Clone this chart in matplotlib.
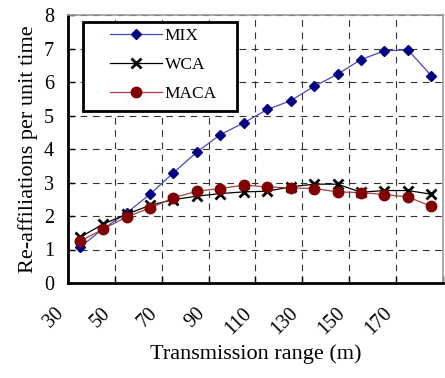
import numpy as np
import matplotlib
matplotlib.use('Agg')
import matplotlib.pyplot as plt
from matplotlib.patches import Rectangle

plt.rcParams['font.family'] = ['Liberation Serif', 'DejaVu Serif']

# transmission range (m), one point per category centre
ranges = [35, 45, 55, 65, 75, 85, 95, 105, 115, 125, 135, 145, 155, 165, 175, 185]
mix = [1.06, 1.62, 2.09, 2.65, 3.29, 3.91, 4.43, 4.78, 5.18, 5.44, 5.87, 6.23, 6.67, 6.93, 6.96, 6.19]
wca = [1.36, 1.76, 2.05, 2.32, 2.49, 2.59, 2.67, 2.72, 2.74, 2.87, 2.95, 2.95, 2.71, 2.76, 2.76, 2.65]
maca = [1.24, 1.61, 1.97, 2.24, 2.54, 2.74, 2.82, 2.92, 2.87, 2.84, 2.82, 2.72, 2.70, 2.64, 2.57, 2.29]
tick_pos = [30, 50, 70, 90, 110, 130, 150, 170, 190]
tick_labels = ['30', '50', '70', '90', '110', '130', '150', '170', '']

fig = plt.figure(figsize=(4.45, 3.78), dpi=100)
ax = fig.add_axes([68 / 445, 1 - 283 / 378, 375 / 445, 268 / 378])

ax.plot(ranges, mix, '-', color='#4848b8', lw=0.9, marker='D', ms=5,
        mfc='#000080', mec='#000080', label='MIX', zorder=3)
ax.plot(ranges, wca, '-', color='black', lw=0.9, marker='x', ms=7,
        mew=2, mec='black', label='WCA', zorder=4)
ax.plot(ranges, maca, '-', color='#a84040', lw=0.9, marker='o', ms=7.5,
        mfc='#800000', mec='#800000', label='MACA', zorder=5)

ax.set_xlim(30, 190)
ax.set_ylim(0, 8)
ax.set_xticks(tick_pos)
ax.set_xticklabels(tick_labels, rotation=45, ha='right', va='top', fontsize=14.5)
ax.set_yticks(range(9))
ax.tick_params(axis='y', labelsize=14.5, direction='in', length=5, width=1, pad=10)
ax.tick_params(axis='x', direction='in', length=5, width=1, pad=15)
ax.grid(True, color='#333333', ls=(0, (6, 5)), lw=0.8)

for s in ['left', 'bottom']:
    ax.spines[s].set_color('black')
    ax.spines[s].set_linewidth(2)
for s in ['top', 'right']:
    ax.spines[s].set_color('#999999')
    ax.spines[s].set_linewidth(1.2)

ax.set_xlabel('Transmission range (m)', fontsize=16, labelpad=4)
ax.set_ylabel('Re-affiliations per unit time', fontsize=16, labelpad=4)

# legend box drawn separately (Excel-style wide padding)
ax.add_patch(Rectangle((83 / 445, 1 - 111 / 378), 154 / 445, 89 / 378,
                       transform=fig.transFigure, facecolor='white',
                       edgecolor='black', lw=2, zorder=6, clip_on=False))
leg = ax.legend(loc='upper left', bbox_to_anchor=(110 / 445, 1 - 28 / 378),
                bbox_transform=fig.transFigure, fontsize=12.5, frameon=False,
                handlelength=3.0, labelspacing=0.75, borderpad=0,
                handletextpad=0.15, borderaxespad=0)
leg.set_zorder(7)

fig.savefig('out.png', dpi=100)
